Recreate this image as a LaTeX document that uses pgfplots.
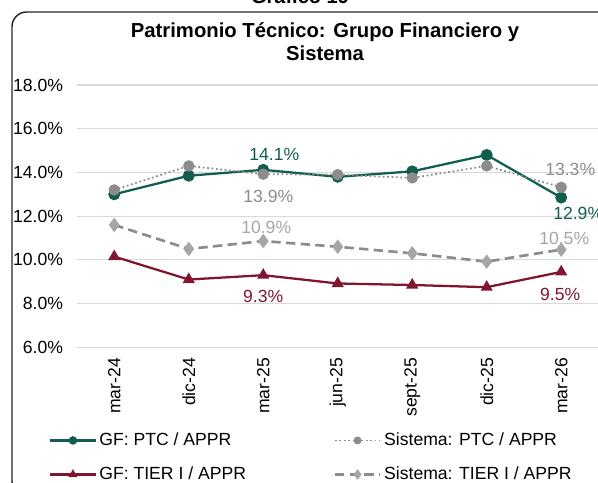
\documentclass[border=0pt]{standalone}
\usepackage{pgfplots}
\pgfplotsset{compat=1.18}
\usepackage{fontspec}
\setmainfont{Liberation Sans}
\definecolor{gfgreen}{RGB}{17,94,79}
\definecolor{gfred}{RGB}{128,21,48}
\definecolor{sgray}{RGB}{140,140,140}
\definecolor{lgray}{RGB}{166,166,166}
\definecolor{gridc}{RGB}{217,217,217}
\newcommand{\lblfont}{\fontsize{13.2}{15}\selectfont}
\begin{document}
\begin{tikzpicture}[x=0.75pt,y=0.75pt]
\useasboundingbox (0,0) rectangle (598,482);
\begin{scope}
\clip (0,0) rectangle (598,482);
\draw[line width=1.1pt, rounded corners=11pt, black!85] (12,470) rectangle (660,-14);
\node[anchor=base, font=\bfseries\fontsize{15}{18}\selectfont] at (300,478) {Gráfico 19};
\node[align=center, font=\bfseries\fontsize{15.2}{17.5}\selectfont] at (325,440) {Patrimonio Técnico: Grupo Financiero y\\Sistema};
\begin{axis}[
  at={(57.75pt,101.03pt)}, anchor=south west, scale only axis,
  width=391.1pt, height=196.7pt,
  xmin=-0.5, xmax=6.5, ymin=6, ymax=18,
  xtick={0,...,6},
  xticklabels={mar-24,dic-24,mar-25,jun-25,sept-25,dic-25,mar-26},
  ytick={6,8,...,18},
  yticklabels={6.0\%,8.0\%,10.0\%,12.0\%,14.0\%,16.0\%,18.0\%},
  ymajorgrids, grid style={gridc, line width=0.9pt},
  axis line style={draw=none},
  major tick length=0pt,
  tick label style={font=\lblfont},
  xticklabel style={rotate=90, anchor=east, xshift=-4.5pt},
  yticklabel style={xshift=-7pt},
  clip=false,
  legend columns=2,
  legend cell align=left,
  legend style={draw=none, fill=none, at={(-0.0614,-0.3057)}, anchor=north west,
    font=\lblfont, row sep=10.5pt,
    /tikz/every even column/.append style={column sep=63.75pt}},
  legend image code/.code={\draw[mark repeat=2,mark phase=2,mark size=2.3pt] plot coordinates {(0cm,0cm) (0.595cm,0cm) (1.19cm,0cm)};},
]
\addplot[color=gfgreen, line width=1.7pt, mark=*, mark size=3.6pt, mark options={solid}]
  coordinates {(0,13.0) (1,13.85) (2,14.12) (3,13.8) (4,14.05) (5,14.8) (6,12.85)};
\addlegendentry{GF: PTC / APPR}
\addplot[color=sgray, line width=1.3pt, dotted, mark=*, mark size=3.6pt, mark options={solid}]
  coordinates {(0,13.2) (1,14.3) (2,13.92) (3,13.9) (4,13.75) (5,14.3) (6,13.32)};
\addlegendentry{Sistema: PTC / APPR}
\addplot[color=gfred, line width=1.7pt, mark=triangle*, mark size=3.6pt, mark options={solid}]
  coordinates {(0,10.15) (1,9.1) (2,9.3) (3,8.92) (4,8.85) (5,8.75) (6,9.45)};
\addlegendentry{GF: TIER I / APPR}
\addplot[color=sgray, line width=2pt, dash pattern=on 7pt off 4pt, mark=diamond*, mark size=3.8pt, mark options={solid, fill=lgray, draw=lgray}]
  coordinates {(0,11.6) (1,10.5) (2,10.86) (3,10.6) (4,10.3) (5,9.92) (6,10.47)};
\addlegendentry{Sistema: TIER I / APPR}
\node[gfgreen, font=\lblfont] at (axis cs:2,14.12) [xshift=8.25pt, yshift=11.25pt] {14.1\%};
\node[sgray, font=\lblfont] at (axis cs:2,13.92) [xshift=3.75pt, yshift=-16.5pt] {13.9\%};
\node[lgray, font=\lblfont] at (axis cs:2,10.86) [xshift=2.25pt, yshift=10.2pt] {10.9\%};
\node[gfred, font=\lblfont] at (axis cs:2,9.3) [xshift=0pt, yshift=-16.1pt] {9.3\%};
\node[sgray, font=\lblfont] at (axis cs:6,13.32) [xshift=6.75pt, yshift=13.5pt] {13.3\%};
\node[gfgreen, font=\lblfont] at (axis cs:6,12.85) [xshift=12.75pt, yshift=-11.8pt] {12.9\%};
\node[lgray, font=\lblfont] at (axis cs:6,10.47) [xshift=2.25pt, yshift=8.3pt] {10.5\%};
\node[gfred, font=\lblfont] at (axis cs:6,9.45) [xshift=-0.75pt, yshift=-17pt] {9.5\%};
\end{axis}
\end{scope}
\end{tikzpicture}
\end{document}
